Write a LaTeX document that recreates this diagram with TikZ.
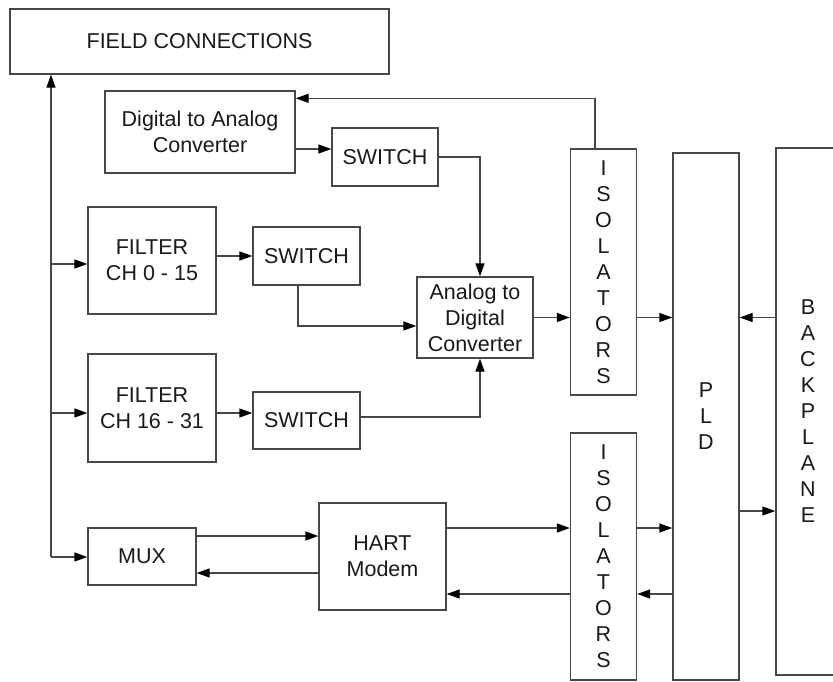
\documentclass[tikz,border=0pt]{standalone}
\usepackage{fontspec}
\setmainfont{Liberation Sans}
\usetikzlibrary{positioning, calc, arrows.meta}

\begin{document}
\begin{tikzpicture}[x=1pt, y=-1pt, line width=1.4pt, color=black!72, >={Triangle[length=13pt, width=9pt, color=black]}, font=\fontsize{21.5}{26}\selectfont]
        % Define block styles
        \tikzstyle{block} = [rectangle, draw, text=black!90, align=center, inner sep=0pt]
        \tikzstyle{tall} = [block, minimum width=66pt]

        \useasboundingbox (0,0) rectangle (833,681);

        % Place nodes
        \node [block, minimum width=379pt, minimum height=65pt] (field) at (199.5,41.5) {FIELD CONNECTIONS};
        \node [block, minimum width=190pt, minimum height=82pt] (dac) at (200,132) {Digital to Analog\\Converter};
        \node [block, minimum width=106pt, minimum height=58pt] (sw1) at (385,157) {SWITCH};
        \node [block, minimum width=128pt, minimum height=107pt] (filt1) at (152,260.5) {FILTER\\CH 0 - 15};
        \node [block, minimum width=107pt, minimum height=58pt] (sw2) at (306.5,256) {SWITCH};
        \node [block, minimum width=116pt, minimum height=81pt] (adc) at (475,317.5) {Analog to\\Digital\\Converter};
        \node [block, minimum width=128pt, minimum height=108pt] (filt2) at (152,408) {FILTER\\CH 16 - 31};
        \node [block, minimum width=107pt, minimum height=57pt] (sw3) at (306.5,420.5) {SWITCH};
        \node [block, minimum width=108pt, minimum height=57pt] (mux) at (142,556.5) {MUX};
        \node [block, minimum width=127pt, minimum height=107pt] (hart) at (382.5,556.5) {HART\\Modem};
        \node [tall, minimum height=246pt] (iso1) at (603.5,272) {I\\S\\O\\L\\A\\T\\O\\R\\S};
        \node [tall, minimum height=247pt] (iso2) at (603.5,556.5) {I\\S\\O\\L\\A\\T\\O\\R\\S};
        \node [tall, minimum height=527pt] (pld) at (706,416.5) {P\\L\\D};
        \node [tall, minimum width=64pt, minimum height=527pt] (back) at (808,411.5) {B\\A\\C\\K\\P\\L\\A\\N\\E};

        % Field connection bus
        \coordinate (bus) at (51,557);
        \coordinate (f1in) at ($(filt1.west)+(0,3.5)$);
        \coordinate (f2in) at ($(filt2.west)+(0,5)$);
        \draw [->] (bus) -- (bus |- field.south);
        \draw [->] (bus) -- (bus -| mux.west);
        \draw [->] (bus |- f1in) -- (f1in);
        \draw [->] (bus |- f2in) -- (f2in);

        % Analog output path
        \coordinate (dacin) at ($(dac.north east)+(0,8)$);
        \coordinate (s1in) at ($(sw1.west)+(0,-8)$);
        \draw [->] ($(iso1.north)+(-8.5,0)$) |- (dacin);
        \draw [->] (dac.east |- s1in) -- (s1in);
        \draw [->] (sw1.east) -| ($(adc.north)+(5,0)$);

        % Analog input paths
        \draw [->] (filt1.east |- sw2.west) -- (sw2.west);
        \draw [->] ($(sw2.south)+(-8.5,0)$) |- ($(adc.west)+(0,8.5)$);
        \draw [->] (filt2.east |- f2in) -- (sw3.west |- f2in);
        \draw [->] ($(sw3.east)+(0,-3.5)$) -| ($(adc.south)+(5,0)$);
        \draw [->] (adc.east) -- (adc.east -| iso1.west);
        \draw [->] (adc.east -| iso1.east) -- (adc.east -| pld.west);
        \draw [->] (adc.east -| back.west) -- (adc.east -| pld.east);

        % HART path
        \coordinate (mh) at ($(mux.east)+(0,-20.5)$);
        \coordinate (hm) at ($(mux.east)+(0,16.5)$);
        \coordinate (hi) at ($(hart.east)+(0,-28.5)$);
        \coordinate (ih) at ($(hart.east)+(0,37.5)$);
        \coordinate (pb) at ($(pld.east)+(0,94.5)$);
        \draw [->] (mh) -- (mh -| hart.west);
        \draw [->] (hm -| hart.west) -- (hm);
        \draw [->] (hi) -- (hi -| iso2.west);
        \draw [->] (ih -| iso2.west) -- (ih);
        \draw [->] (hi -| iso2.east) -- (hi -| pld.west);
        \draw [->] (ih -| pld.west) -- (ih -| iso2.east);
        \draw [->] (pb) -- (pb -| back.west);
\end{tikzpicture}
\end{document}
